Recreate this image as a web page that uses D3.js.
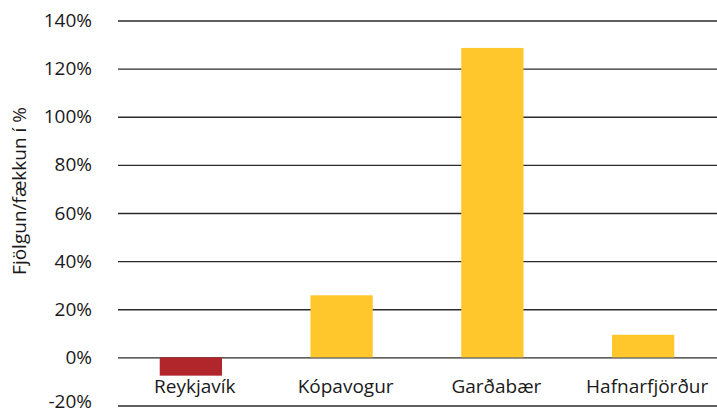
<!DOCTYPE html>
<html>
<head>
<meta charset="utf-8">
<script src="https://cdn.jsdelivr.net/npm/d3@7"></script>
<style>
  body { margin: 0; background: #fff; }
  text { font-family: "Open Sans", "Noto Sans", sans-serif; fill: #1a1a1a; }
</style>
</head>
<body>
<script>
// Data
const towns = ["Reykjavík", "Kópavogur", "Garðabær", "Hafnarfjörður"];
const change = [-7.6, 25.8, 128.6, 9.4];
const barColors = ["#b0262b", "#ffc72c", "#ffc72c", "#ffc72c"];
const yTicks = [-20, 0, 20, 40, 60, 80, 100, 120, 140];

const width = 717, height = 414;

const svg = d3.select("body")
  .append("svg")
  .attr("width", width)
  .attr("height", height);

// Scales
const x = d3.scaleBand()
  .domain(towns)
  .range([116, 718])
  .paddingInner(0.587)
  .paddingOuter(0.29);

const y = d3.scaleLinear()
  .domain([-20, 140])
  .range([405.5, 20.5]);

// Gridlines + tick labels
const yAxis = d3.axisLeft(y)
  .tickValues(yTicks)
  .tickSize(-(717 - 118))
  .tickPadding(26)
  .tickFormat(d => d + "%");

svg.append("g")
  .attr("transform", "translate(118,0)")
  .call(yAxis)
  .call(g => g.select(".domain").remove())
  .call(g => g.selectAll(".tick line").attr("stroke", "#2a2a2a").attr("stroke-width", 1.3))
  .call(g => g.selectAll(".tick text")
    .style("font-size", "19px")
    .attr("fill", "#1a1a1a"))
  // keep the lowest label inside the frame
  .call(g => g.selectAll(".tick text").filter(d => d === -20).attr("dy", "0.1em"));

// Bars
svg.append("g")
  .selectAll("rect")
  .data(towns)
  .enter()
  .append("rect")
  .attr("x", d => x(d))
  .attr("width", x.bandwidth())
  .attr("y", (d, i) => y(Math.max(0, change[i])))
  .attr("height", (d, i) => Math.abs(y(change[i]) - y(0)))
  .attr("fill", (d, i) => barColors[i]);

// Category labels
svg.append("g")
  .selectAll("text")
  .data(towns)
  .enter()
  .append("text")
  .attr("x", d => x(d) + x.bandwidth() / 2 + 4)
  .attr("y", 393)
  .attr("text-anchor", "middle")
  .style("font-size", "19px")
  .text(d => d);

// Axis title
svg.append("text")
  .attr("transform", "translate(26," + 191 + ") rotate(270)")
  .attr("text-anchor", "middle")
  .style("font-size", "19px")
  .text("Fjölgun/fækkun í %");
</script>
</body>
</html>
